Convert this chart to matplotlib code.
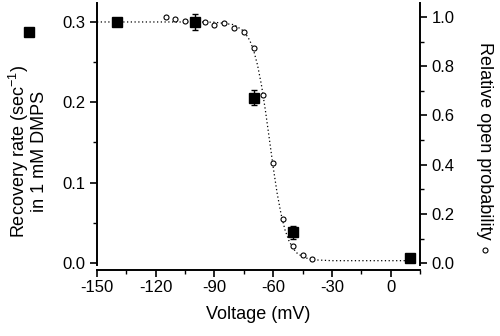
import matplotlib
matplotlib.use("Agg")
import matplotlib.pyplot as plt
from matplotlib.lines import Line2D
from matplotlib.ticker import MultipleLocator

plt.rcParams["font.family"] = ["Liberation Sans", "DejaVu Sans"]
plt.rcParams["axes.unicode_minus"] = False
plt.rcParams["mathtext.fontset"] = "custom"
plt.rcParams["mathtext.rm"] = "Liberation Sans"
plt.rcParams["mathtext.it"] = "Liberation Sans:italic"

# recovery rate in 1 mM DMPS (left axis)
rate_v = [-140, -100, -70, -50, 10]
rate = [0.300, 0.300, 0.206, 0.038, 0.006]
rate_err = [0.0, 0.010, 0.009, 0.008, 0.0]

# relative open probability (right axis)
po_v = [-115, -110, -105, -95, -90, -85, -80, -75, -70, -65, -60, -55, -50, -45, -40]
po = [0.999, 0.991, 0.985, 0.980, 0.966, 0.974, 0.954, 0.938, 0.873, 0.683,
      0.408, 0.178, 0.070, 0.033, 0.015]

# dotted fit curve
fit_v = [-150, -100, -90, -80, -75, -72, -70, -68, -66, -64, -62, -60, -58, -56,
         -54, -52, -50, -48, -45, -42, -38, -30, 10]
fit_p = [0.980, 0.980, 0.979, 0.969, 0.943, 0.906, 0.865, 0.805, 0.724, 0.622,
         0.507, 0.390, 0.285, 0.200, 0.136, 0.092, 0.062, 0.042, 0.026, 0.018,
         0.013, 0.010, 0.010]

fig = plt.figure(figsize=(5, 3.36), dpi=100)
ax = fig.add_axes([0.194, 0.211, 0.646, 0.780])
ax2 = ax.twinx()

ax2.plot(fit_v, fit_p, color="black", lw=0.9, ls=(0, (1, 2)), zorder=1)
ax2.plot(po_v, po, "o", ms=3.6, mfc="white", mec="black", mew=0.8, zorder=2)
ax.errorbar(rate_v, rate, yerr=rate_err, fmt="s", ms=7, color="black",
            ecolor="black", elinewidth=1, capsize=2.5, zorder=3)
ax.set_zorder(ax2.get_zorder() + 1)
ax.patch.set_visible(False)

ax.set_xlim(-150, 15)
ax.set_ylim(-0.003, 0.324)
ax2.set_ylim(-0.008, 1.057)

ax.xaxis.set_major_locator(MultipleLocator(30))
ax.xaxis.set_minor_locator(MultipleLocator(15))
ax.yaxis.set_major_locator(MultipleLocator(0.1))
ax.yaxis.set_minor_locator(MultipleLocator(0.05))
ax2.yaxis.set_major_locator(MultipleLocator(0.2))
ax2.yaxis.set_minor_locator(MultipleLocator(0.1))
ax.yaxis.set_major_formatter(plt.FormatStrFormatter("%.1f"))
ax2.yaxis.set_major_formatter(plt.FormatStrFormatter("%.1f"))

for a in (ax, ax2):
    a.spines["top"].set_visible(False)
    for s in a.spines.values():
        s.set_linewidth(1.4)
    a.tick_params(which="major", direction="out", length=5, width=1.2, labelsize=12)
    a.tick_params(which="minor", direction="out", length=3, width=1.0)
ax.spines["right"].set_visible(False)
ax2.spines["left"].set_visible(False)
ax2.spines["bottom"].set_visible(False)
ax.spines["bottom"].set_position(("outward", 3.6))
ax.tick_params(axis="x", pad=2)

ax.set_xlabel("Voltage (mV)", fontsize=13, labelpad=8)

fig.text(0.055, 0.55, "Recovery rate (sec$^{-1}$)\nin 1 mM DMPS", rotation=90,
         ha="center", va="center", fontsize=13, linespacing=1.0, multialignment="center")
fig.add_artist(Line2D([0.057], [0.905], marker="s", ms=7, color="black",
                      transform=fig.transFigure))
fig.text(0.97, 0.58, "Relative open probability", rotation=-90,
         ha="center", va="center", fontsize=13)
fig.add_artist(Line2D([0.97], [0.255], marker="o", ms=3.6, mfc="white", mec="black",
                      mew=0.8, transform=fig.transFigure))

fig.savefig("out.png", dpi=100)
